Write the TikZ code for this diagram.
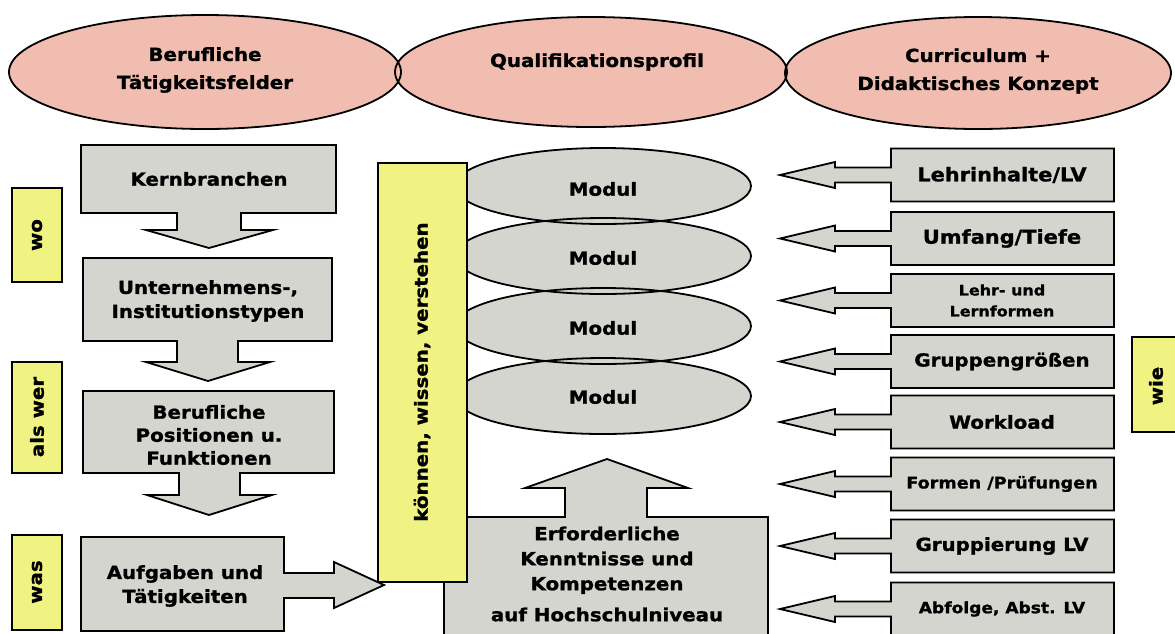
\documentclass[tikz,border=0pt]{standalone}
\usepackage{fontspec}
\setmainfont{DejaVu Sans}[FakeStretch=1.1,BoldFeatures={FakeBold=1.2}]
\usetikzlibrary{shapes.geometric}
\definecolor{pinkf}{RGB}{240,189,176}
\definecolor{greyf}{RGB}{213,213,207}
\definecolor{yellf}{RGB}{240,243,130}
\newcommand\rightbox[4]{%
  \draw[gbox] (1114,#2-26.5) -- (1114,#2+26.5) -- (891,#2+26.5) -- (891,#2+7.5) -- (835,#2+7.5) -- (835,#2+13) -- (780,#2) -- (835,#2-13) -- (835,#2-7.5) -- (891,#2-7.5) -- (891,#2-26.5) -- cycle;
  \node[txt,#4] (#1) at (1002,#2) {#3};}
\begin{document}
\begin{tikzpicture}[x=1pt,y=-1pt,line width=1.8pt,line join=miter,
  gbox/.style={draw=black,fill=greyf},
  ybox/.style={draw=black,fill=yellf},
  txt/.style={font=\bfseries\fontsize{18}{24}\selectfont,align=center,inner sep=0pt},
  small/.style={font=\bfseries\fontsize{14.5}{21}\selectfont},
  etxt/.style={font=\bfseries\fontsize{18}{28}\selectfont,align=center,inner sep=0pt}]
\useasboundingbox (0,0) rectangle (1175,633);
\fill[white] (0,0) rectangle (1175,633);
\clip (0,0) rectangle (1175,633);

% top ellipses
\fill[pinkf] (205,72) ellipse [x radius=196,y radius=57];
\fill[pinkf] (591,72) ellipse [x radius=196,y radius=55];
\fill[pinkf] (978,73) ellipse [x radius=193,y radius=56];
\draw (205,72) ellipse [x radius=196,y radius=57];
\draw (591,72) ellipse [x radius=196,y radius=55];
\draw (978,73) ellipse [x radius=193,y radius=56];
\node[etxt] (t1) at (205,70) {Berufliche\\Tätigkeitsfelder};
\node[etxt] (t2) at (597,62) {Qualifikationsprofil};
\node[etxt] (t3) at (978,71) {Curriculum +\\Didaktisches Konzept};

% left yellow labels
\draw[ybox] (12,188) rectangle (62,282);
\node[txt,rotate=90] (wo) at (37,235) {wo};
\draw[ybox] (12,362) rectangle (62,473);
\node[txt,rotate=90] (alswer) at (37,417) {als wer};
\draw[ybox] (12,535) rectangle (62,630);
\node[txt,rotate=90] (was) at (37,582) {was};

% left column
\draw[gbox] (81,145) -- (336,145) -- (336,213) -- (241,213) -- (241,230) -- (273,230) -- (209,248) -- (146,230) -- (177,230) -- (177,213) -- (81,213) -- cycle;
\node[txt] (kb) at (209,179) {Kernbranchen};
\draw[gbox] (83,258) -- (332,258) -- (332,341) -- (238,341) -- (238,362) -- (270,362) -- (208,381) -- (146,362) -- (177,362) -- (177,341) -- (83,341) -- cycle;
\node[txt] (ut) at (208,301) {Unternehmens-,\\Institutionstypen};
\draw[gbox] (83,391) -- (334,391) -- (334,473) -- (240,473) -- (240,495) -- (272,495) -- (209,515) -- (147,495) -- (179,495) -- (179,473) -- (83,473) -- cycle;
\node[txt,font=\bfseries\fontsize{18}{23}\selectfont] (bp) at (209,435) {Berufliche\\Positionen u.\\Funktionen};
\draw[gbox] (81,537) -- (284,537) -- (284,573) -- (334,573) -- (334,562) -- (384,585) -- (334,608) -- (334,598) -- (284,598) -- (284,631) -- (81,631) -- cycle;
\node[txt] (at) at (185,586) {Aufgaben und\\Tätigkeiten};

% modules
\fill[greyf] (603,186) ellipse [x radius=148,y radius=38];
\fill[greyf] (603,256) ellipse [x radius=148,y radius=38];
\fill[greyf] (603,326) ellipse [x radius=148,y radius=38];
\fill[greyf] (603,396) ellipse [x radius=148,y radius=38];
\draw (603,186) ellipse [x radius=148,y radius=38];
\draw (603,256) ellipse [x radius=148,y radius=38];
\draw (603,326) ellipse [x radius=148,y radius=38];
\draw (603,396) ellipse [x radius=148,y radius=38];
\node[txt] (m1) at (603,189) {Modul};
\node[txt] (m2) at (603,258) {Modul};
\node[txt] (m3) at (603,328) {Modul};
\node[txt] (m4) at (603,397) {Modul};

% bottom centre box with up arrow
\draw[gbox] (444,517) -- (565,517) -- (565,488) -- (525,488) -- (607,459) -- (688,488) -- (647,488) -- (647,517) -- (768,517) -- (768,640) -- (444,640) -- cycle;
\node[txt,font=\bfseries\fontsize{18}{25}\selectfont] (ek) at (607,574) {Erforderliche\\Kenntnisse und\\Kompetenzen\\[6pt]auf Hochschulniveau};

% yellow bar
\draw[ybox] (378,163) rectangle (467,582);
\node[txt,rotate=90] (kwv) at (422,372) {können, wissen, verstehen};

% right column
\rightbox{r1}{175}{Lehrinhalte/LV}{font=\bfseries\fontsize{19}{24}\selectfont}
\rightbox{r2}{238.5}{Umfang/Tiefe}{font=\bfseries\fontsize{19}{24}\selectfont}
\rightbox{r3}{300.5}{Lehr- und\\Lernformen}{small}
\rightbox{r4}{361.5}{Gruppengrößen}{}
\rightbox{r5}{422}{Workload}{}
\rightbox{r6}{484}{Formen /Prüfungen}{font=\bfseries\fontsize{16}{20}\selectfont}
\rightbox{r7}{546}{Gruppierung LV}{}
\rightbox{r8}{609}{Abfolge, Abst. LV}{font=\bfseries\fontsize{15.5}{20}\selectfont}

% wie
\draw[ybox] (1132,337) rectangle (1185,432);
\node[txt,rotate=90] (wie) at (1156,386) {wie};
\end{tikzpicture}
\end{document}
